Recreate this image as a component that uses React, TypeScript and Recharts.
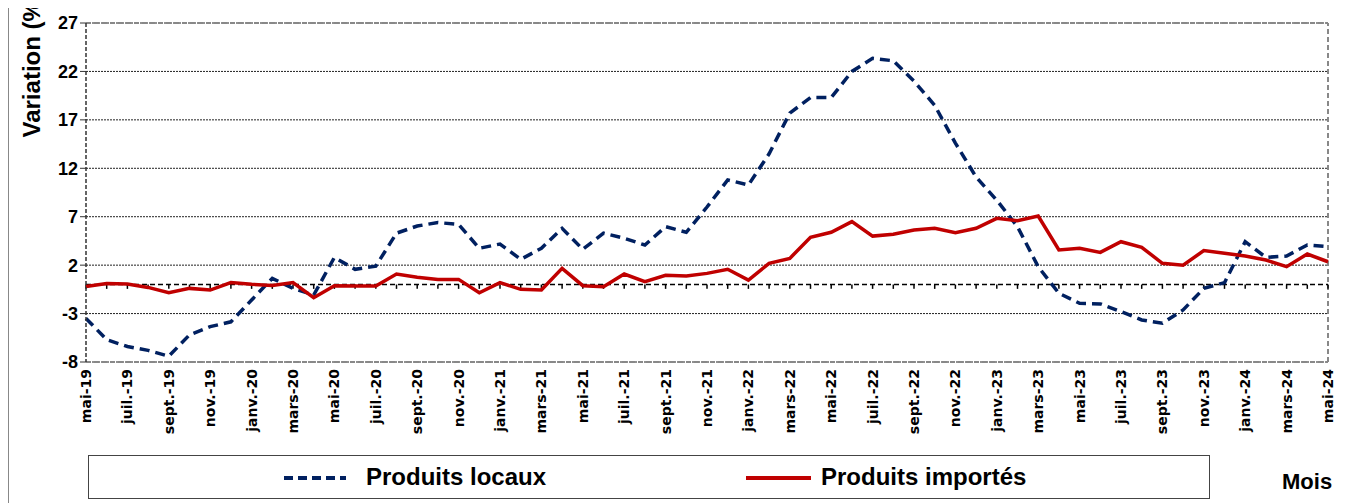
import {
  LineChart,
  Line,
  XAxis,
  YAxis,
  CartesianGrid,
  ReferenceLine,
  Legend,
} from "recharts";

// mois : mai-19 -> mai-24
const nomsMois = ["janv.", "févr.", "mars", "avr.", "mai", "juin", "juil.", "août", "sept.", "oct.", "nov.", "déc."];
const mois: string[] = [];
for (let k = 0; k < 61; k++) {
  const m = (4 + k) % 12;
  const an = 19 + Math.floor((4 + k) / 12);
  mois.push(`${nomsMois[m]}-${an}`);
}

const produitsLocaux = [
  -3.5, -5.7, -6.4, -6.8, -7.4, -5.2, -4.35, -3.85, -1.6, 0.64, -0.4, -1.08,
  2.8, 1.57, 1.9, 5.3, 6.04, 6.4, 6.2, 3.74, 4.18, 2.6, 3.74, 5.8,
  3.63, 5.3, 4.77, 4.08, 5.97, 5.39, 8.0, 10.8, 10.27, 13.5, 17.7, 19.3,
  19.3, 22.0, 23.35, 23.1, 21.0, 18.5, 14.6, 11.1, 8.7, 5.97, 1.84, -0.9,
  -1.94, -2.0, -2.8, -3.66, -4.0, -2.63, -0.4, 0.19, 4.42, 2.8, 2.94, 4.08,
  3.9,
];

const produitsImportes = [
  -0.2, 0.1, 0.05, -0.3, -0.85, -0.4, -0.57, 0.2, 0.02, -0.1, 0.2, -1.36,
  -0.12, -0.15, -0.15, 1.08, 0.74, 0.53, 0.53, -0.85, 0.19, -0.5, -0.57, 1.67,
  -0.12, -0.23, 1.08, 0.29, 0.95, 0.88, 1.15, 1.57, 0.46, 2.19, 2.7, 4.87,
  5.39, 6.49, 5.0, 5.2, 5.63, 5.8, 5.35, 5.8, 6.83, 6.59, 7.07, 3.56,
  3.74, 3.32, 4.42, 3.84, 2.19, 2.0, 3.5, 3.22, 2.94, 2.53, 1.84, 3.15,
  2.35,
];

const yTicks = [-8, -3, 2, 7, 12, 17, 22, 27];

const data = mois.map((m, i) => ({
  mois: m,
  locaux: produitsLocaux[i],
  importes: produitsImportes[i],
}));

const BLEU = "#002060";
const ROUGE = "#C00000";
const FONT = "'Liberation Sans', Arial, sans-serif";

const MoisTick = (props: any) => {
  const { x, y, payload } = props;
  return (
    <text
      x={x}
      y={y - 1}
      transform={`rotate(-90 ${x} ${y - 1})`}
      textAnchor="end"
      dominantBaseline="central"
      fontFamily="'DejaVu Sans', Verdana, sans-serif"
      fontWeight="bold"
      fontSize={14}
      fill="#000"
    >
      {payload.value}
    </text>
  );
};

const LegendeBox = () => (
  <div
    style={{
      width: 1122,
      height: 44,
      border: "1px solid #444",
      boxSizing: "border-box",
      position: "relative",
      fontFamily: FONT,
      fontWeight: "bold",
      fontSize: 24,
      color: "#000",
    }}
  >
    <svg width={70} height={10} style={{ position: "absolute", left: 195, top: 17 }}>
      <line x1={0} y1={5} x2={62} y2={5} stroke={BLEU} strokeWidth={4} strokeDasharray="9 5" />
    </svg>
    <span style={{ position: "absolute", left: 277, top: 7 }}>Produits locaux</span>
    <svg width={70} height={10} style={{ position: "absolute", left: 657, top: 17 }}>
      <line x1={0} y1={5} x2={65} y2={5} stroke={ROUGE} strokeWidth={4} />
    </svg>
    <span style={{ position: "absolute", left: 732, top: 7 }}>Produits importés</span>
  </div>
);

export default function App() {
  return (
    <div
      style={{
        position: "relative",
        width: 1356,
        height: 503,
        marginTop: -8,
        borderLeft: "1px solid #888",
        boxSizing: "border-box",
      }}
    >
      <LineChart
        width={1355}
        height={503}
        data={data}
        margin={{ top: 23, right: 36, left: 0, bottom: 61 }}
      >
        <CartesianGrid
          vertical={false}
          stroke="#222"
          strokeDasharray="2 1"
          strokeWidth={1}
        />
        <XAxis
          dataKey="mois"
          interval={1}
          axisLine={false}
          tickLine={false}
          height={80}
          tick={<MoisTick />}
        />
        <YAxis
          domain={[-8, 27]}
          ticks={yTicks}
          width={77}
          allowDataOverflow
          axisLine={{ stroke: "#333", strokeDasharray: "4 2", strokeWidth: 1.5 }}
          tickLine={{ stroke: "#333" }}
          tickSize={6}
          tick={{ fill: "#000", fontSize: 18, fontWeight: "bold", fontFamily: FONT }}
          label={{
            value: "Variation (%)",
            angle: -90,
            position: "insideLeft",
            dx: 17,
            dy: -55,
            fill: "#000",
            fontSize: 24,
            fontWeight: "bold",
            fontFamily: FONT,
          }}
        />
        <ReferenceLine y={27} stroke="#888" strokeWidth={2} strokeDasharray="5 3" />
        <ReferenceLine y={-8} stroke="#888" strokeWidth={2} strokeDasharray="5 3" />
        <ReferenceLine x={mois[mois.length - 1]} stroke="#888" strokeWidth={2} strokeDasharray="5 3" />
        <ReferenceLine y={0} stroke="#000" strokeWidth={1.5} strokeDasharray="5 3" />
        {mois.map((m) => (
          <ReferenceLine
            key={m}
            segment={[
              { x: m, y: 0 },
              { x: m, y: -0.45 },
            ]}
            stroke="#000"
            strokeWidth={1.5}
          />
        ))}
        <Line
          type="linear"
          dataKey="locaux"
          stroke={BLEU}
          strokeWidth={3.5}
          strokeDasharray="10 6"
          dot={false}
          isAnimationActive={false}
        />
        <Line
          type="linear"
          dataKey="importes"
          stroke={ROUGE}
          strokeWidth={3.5}
          dot={false}
          isAnimationActive={false}
        />
        <Legend
          layout="horizontal"
          verticalAlign="middle"
          align="center"
          content={<LegendeBox />}
          wrapperStyle={{ left: 79, top: 455, width: 1122, height: 44 }}
        />
      </LineChart>
      <div
        style={{
          position: "absolute",
          left: 1273,
          top: 469,
          fontFamily: FONT,
          fontWeight: "bold",
          fontSize: 22,
          color: "#000",
        }}
      >
        Mois
      </div>
    </div>
  );
}
